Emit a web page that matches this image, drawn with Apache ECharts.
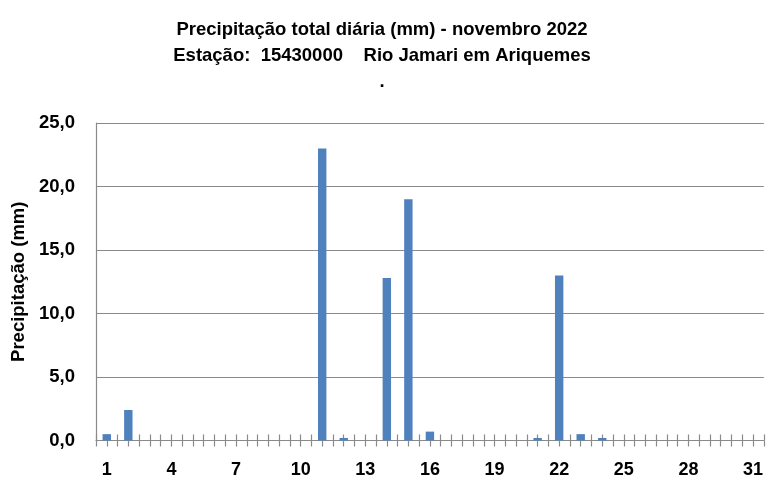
<!DOCTYPE html>
<html>
<head>
<meta charset="utf-8">
<script src="https://cdn.jsdelivr.net/npm/echarts@6/dist/echarts.min.js"></script>
<style>html,body{margin:0;padding:0;background:#fff}#c{width:766px;height:479px}</style>
</head>
<body>
<div id="c"></div>
<script>
var days = ['1','2','3','4','5','6','7','8','9','10','11','12','13','14','15','16','17','18','19','20','21','22','23','24','25','26','27','28','29','30','31'];
var precip = [0.5,2.4,0,0,0,0,0,0,0,0,23.0,0.2,0,12.8,19.0,0.7,0,0,0,0,0.2,13.0,0.5,0.2,0,0,0,0,0,0,0];
var yTickLabels = ['0,0','5,0','10,0','15,0','20,0','25,0'];
var titleLines = ['Precipitação total diária (mm) - novembro 2022', 'Estação:  15430000    Rio Jamari em Ariquemes', '.'];
var yAxisTitle = 'Precipitação (mm)';

var halfSlots = [];
for (var i = 0; i < days.length * 2; i++) halfSlots.push(String(i));

var font = '"Liberation Sans", Arial, sans-serif';
var grey = '#8a8a8a';
var chart = echarts.init(document.getElementById('c'));
chart.setOption({
  animation: false,
  title: {
    text: titleLines.join('\n'),
    left: 377, top: 12, textAlign: 'center',
    textStyle: { fontFamily: font, fontWeight: 'bold', fontSize: 18.5, lineHeight: 26, color: '#000' }
  },
  grid: { left: 96, right: -2, top: 123, bottom: 34 },
  xAxis: [
    {
      type: 'category', data: days, position: 'bottom',
      axisLine: { onZero: false, lineStyle: { color: grey, width: 1.2 } },
      axisTick: { show: false },
      axisLabel: { interval: 2, margin: 20.5, fontFamily: font, fontWeight: 'bold', fontSize: 18, color: '#000' }
    },
    {
      type: 'category', data: halfSlots, position: 'bottom',
      axisLine: { show: false, onZero: false }, axisLabel: { show: false },
      axisTick: { show: true, interval: 0, length: 6, lineStyle: { color: grey, width: 1.2 } }
    },
    {
      type: 'category', data: halfSlots, position: 'bottom',
      axisLine: { show: false, onZero: false }, axisLabel: { show: false },
      axisTick: { show: true, inside: true, interval: 0, length: 6, lineStyle: { color: grey, width: 1.2 } }
    }
  ],
  yAxis: {
    type: 'value', min: 0, max: 25, interval: 5,
    name: yAxisTitle, nameLocation: 'middle', nameRotate: 90, nameGap: 68,
    nameTextStyle: { fontFamily: font, fontWeight: 'bold', fontSize: 18.5, color: '#000' },
    axisLine: { show: true, lineStyle: { color: grey, width: 1.2 } },
    axisTick: { show: false },
    splitLine: { lineStyle: { color: grey, width: 1.2 } },
    axisLabel: {
      margin: 21, fontFamily: font, fontWeight: 'bold', fontSize: 18.5, color: '#000',
      formatter: function (v) { return yTickLabels[Math.round(v / 5)]; }
    }
  },
  series: [{
    type: 'bar', data: precip, xAxisIndex: 0, barWidth: '39%',
    itemStyle: { color: '#4f81bd' }
  }]
});
</script>
</body>
</html>
